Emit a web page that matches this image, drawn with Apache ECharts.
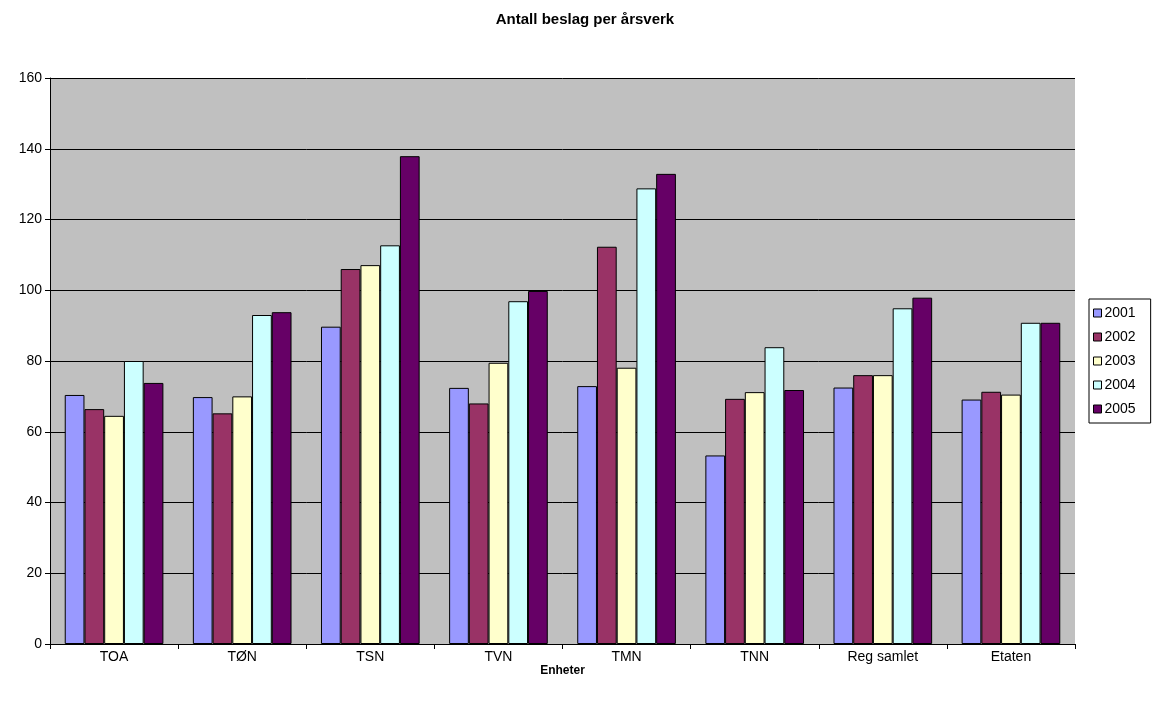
<!DOCTYPE html>
<html>
<head>
<meta charset="utf-8">
<script src="https://cdn.jsdelivr.net/npm/echarts@6/dist/echarts.min.js"></script>
<style>
  html, body { margin: 0; padding: 0; background: #fff; }
  #chart { width: 1155px; height: 704px; }
</style>
</head>
<body>
<div id="chart"></div>
<script>
// Enheter (units) along the x axis
const categories = ['TOA', 'TØN', 'TSN', 'TVN', 'TMN', 'TNN', 'Reg samlet', 'Etaten'];

// Beslag per årsverk, one array per year
const y2001 = [70.4, 69.8, 89.7, 72.4, 72.9, 53.3, 72.5, 69.1];
const y2002 = [66.4, 65.2, 106.0, 68.0, 112.3, 69.3, 76.0, 71.3];
const y2003 = [64.5, 70.0, 107.1, 79.5, 78.1, 71.2, 76.0, 70.5];
const y2004 = [80.0, 93.0, 112.7, 96.9, 128.8, 83.9, 94.9, 90.8];
const y2005 = [73.8, 93.8, 137.9, 99.8, 132.9, 71.8, 97.9, 90.8];

const years = ['2001', '2002', '2003', '2004', '2005'];
const yearValues = [y2001, y2002, y2003, y2004, y2005];
const colors = ['#9999FF', '#993366', '#FFFFCC', '#CCFFFF', '#660066'];

const FONT = '"Liberation Sans", Arial, sans-serif';

const chart = echarts.init(document.getElementById('chart'), null, { renderer: 'canvas' });

chart.setOption({
  animation: false,
  backgroundColor: '#ffffff',
  title: {
    text: 'Antall beslag per årsverk',
    left: 580,
    textAlign: 'center',
    top: 7,
    textStyle: { fontFamily: FONT, fontSize: 15, fontWeight: 'bold', color: '#000' }
  },
  legend: {
    orient: 'vertical',
    left: 1089,
    top: 299,
    padding: [7, 15, 7, 4],
    itemGap: 10,
    itemWidth: 8,
    itemHeight: 8,
    borderColor: '#000',
    borderWidth: 1,
    icon: 'rect',
    data: years.map((y, i) => ({
      name: y,
      itemStyle: { color: colors[i], borderColor: '#000', borderWidth: 1 }
    })),
    textStyle: { fontFamily: FONT, fontSize: 14, color: '#000', padding: [0, 0, 0, -2] }
  },
  grid: {
    left: 50,
    right: 80,
    top: 78,
    bottom: 60,
    show: true,
    backgroundColor: '#C0C0C0',
    borderWidth: 0
  },
  xAxis: {
    type: 'category',
    data: categories,
    name: 'Enheter',
    nameLocation: 'middle',
    nameMoveOverlap: false,
    nameGap: 21,
    nameTextStyle: { fontFamily: FONT, fontSize: 12, fontWeight: 'bold', color: '#000' },
    axisLine: { show: true, lineStyle: { color: '#000', width: 1 } },
    axisTick: { show: true, alignWithLabel: false, length: 5, lineStyle: { color: '#000' } },
    axisLabel: { fontFamily: FONT, fontSize: 14, color: '#000', margin: 6 },
    splitLine: { show: false }
  },
  yAxis: {
    type: 'value',
    min: 0,
    max: 160,
    interval: 20,
    axisLine: { show: true, lineStyle: { color: '#000', width: 1 } },
    axisTick: { show: true, length: 5, lineStyle: { color: '#000' } },
    axisLabel: { fontFamily: FONT, fontSize: 14, color: '#000', margin: 8 },
    splitLine: { show: true, lineStyle: { color: '#000', width: 1 } }
  },
  series: years.map((y, i) => ({
    name: y,
    type: 'bar',
    data: yearValues[i],
    barGap: '0%',
    barCategoryGap: '23%',
    itemStyle: { color: colors[i], borderColor: '#000', borderWidth: 1 }
  }))
});
</script>
</body>
</html>
